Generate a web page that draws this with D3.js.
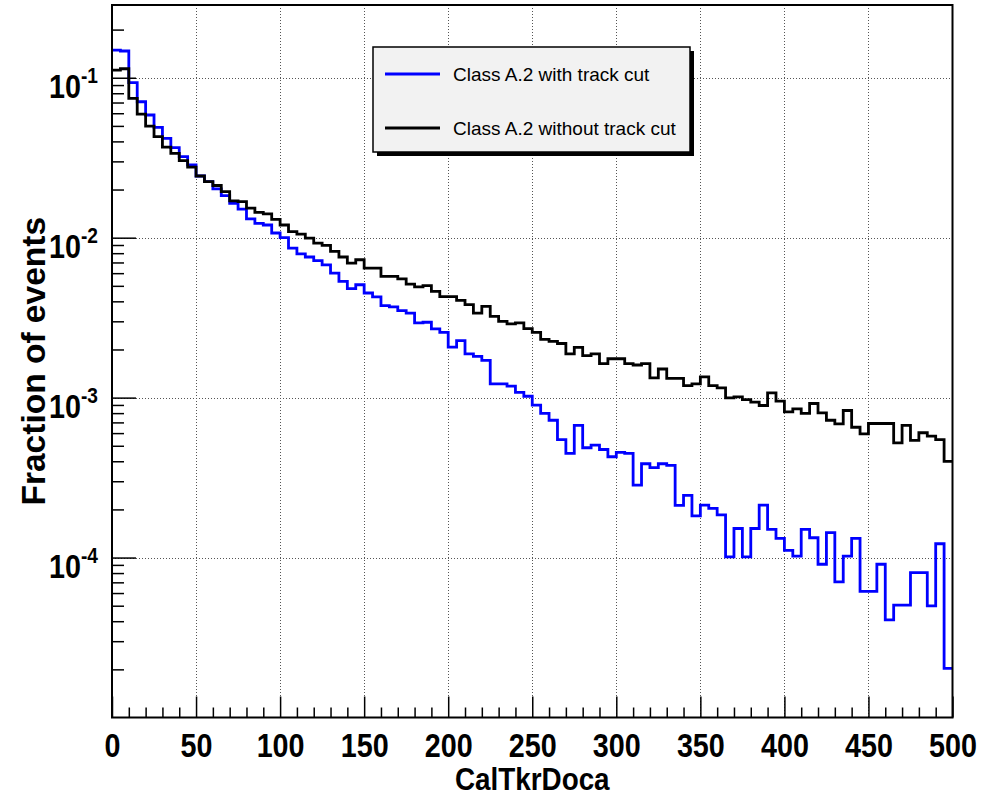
<!DOCTYPE html>
<html>
<head>
<meta charset="utf-8">
<script src="https://cdn.jsdelivr.net/npm/d3@7/dist/d3.min.js"></script>
<style>
  body { margin: 0; background: #fff; }
  text { font-family: "Liberation Sans", Arial, Helvetica, sans-serif; }
</style>
</head>
<body>
<svg id="chart" width="983" height="795"></svg>
<script>
// bins of CalTkrDoca, 5 units wide
var binWidth = 5
var binLow = d3.range(0, 500, binWidth)

// Class A.2 with track cut (blue)
var withCut = [
  0.149, 0.147, 0.0931, 0.0708, 0.0585, 0.0490, 0.0418, 0.0366, 0.0321, 0.0285,
  0.0243, 0.0224, 0.0202, 0.0183, 0.0164, 0.0151, 0.0131, 0.0123, 0.0120, 0.0107,
  0.0100, 0.00861, 0.00793, 0.00757, 0.00718, 0.00677, 0.00601, 0.00533, 0.00480, 0.00508,
  0.00451, 0.00426, 0.00376, 0.00369, 0.00350, 0.00338, 0.00293, 0.00296, 0.00269, 0.00256,
  0.00207, 0.00227, 0.00188, 0.00181, 0.00171, 0.00122, 0.00122, 0.00118, 0.00108, 0.00102,
  0.000897, 0.000796, 0.000722, 0.000547, 0.000448, 0.000670, 0.000486, 0.000505, 0.000474, 0.000427,
  0.000454, 0.000448, 0.000284, 0.000386, 0.000365, 0.000386, 0.000377, 0.000212, 0.000245, 0.000182,
  0.000213, 0.000203, 0.000185, 0.000101, 0.000152, 0.000101, 0.000152, 0.000213, 0.000150, 0.000132,
  0.000111, 0.000102, 0.000150, 0.000133, 0.0000908, 0.000143, 0.0000705, 0.000102, 0.000132, 0.0000614,
  0.0000614, 0.0000908, 0.0000408, 0.0000504, 0.0000504, 0.0000806, 0.0000806, 0.0000499, 0.000122, 0.0000203
]

// Class A.2 without track cut (black)
var withoutCut = [
  0.1117, 0.1138, 0.0744, 0.0593, 0.0499, 0.0428, 0.0368, 0.0337, 0.0303, 0.0276,
  0.0243, 0.0224, 0.0212, 0.0194, 0.0170, 0.0168, 0.0153, 0.0144, 0.0141, 0.0130,
  0.0120, 0.0109, 0.01053, 0.00994, 0.00925, 0.00894, 0.00820, 0.00757, 0.00694, 0.00728,
  0.00646, 0.00646, 0.00573, 0.00573, 0.00552, 0.00513, 0.00492, 0.00501, 0.00462, 0.00428,
  0.00428, 0.00406, 0.00381, 0.00338, 0.00372, 0.00322, 0.00300, 0.00289, 0.00293, 0.00270,
  0.00256, 0.00231, 0.00225, 0.00218, 0.00188, 0.00206, 0.00183, 0.00188, 0.00163, 0.00175,
  0.00175, 0.00163, 0.00160, 0.00163, 0.00133, 0.00151, 0.00132, 0.00132, 0.00119, 0.00122,
  0.00135, 0.00119, 0.00115, 0.000997, 0.00101, 0.000973, 0.000936, 0.000893, 0.00107, 0.000950,
  0.000815, 0.000851, 0.000796, 0.000919, 0.000804, 0.000722, 0.000686, 0.000831, 0.000653, 0.000594,
  0.000689, 0.000689, 0.000689, 0.000522, 0.000670, 0.000540, 0.000603, 0.000574, 0.000547, 0.000399
]

var xMajor = [0, 50, 100, 150, 200, 250, 300, 350, 400, 450, 500]
var yMajor = [1e-4, 1e-3, 1e-2, 1e-1]
var yExp = ['-4', '-3', '-2', '-1']

var series = [
  { name: 'Class A.2 with track cut', values: withCut, color: '#0000ff' },
  { name: 'Class A.2 without track cut', values: withoutCut, color: '#000000' }
]

var frame = { left: 112, right: 952.5, top: 5, bottom: 717.5 }
var svg = d3.select('#chart')

var x = d3.scaleLinear().domain([0, 500]).range([frame.left, frame.right])
var y = d3.scaleLog().domain([1e-5, 0.285]).range([frame.bottom, frame.top])

// minor ticks
var xMinor = d3.range(0, 501, 10).filter(v=> v % 50 != 0)
var yMinor = []
;[1e-5, 1e-4, 1e-3, 1e-2, 1e-1].forEach(d=> {
    for (var m = 2; m <= 9; m++)
        if (d * m < 0.285) yMinor.push(d * m)
})

// dotted grid
var grid = svg.append('g').attr('class', 'grid')
    .attr('stroke', '#555').attr('stroke-width', 1).attr('stroke-dasharray', '1,2')
grid.selectAll('line.gx')
    .data(xMajor.filter(v=> v > 0 && v < 500))
  .enter().append('line')
    .attr('x1', d=> Math.round(x(d)) + 0.5).attr('x2', d=> Math.round(x(d)) + 0.5)
    .attr('y1', frame.top).attr('y2', frame.bottom)
grid.selectAll('line.gy')
    .data(yMajor)
  .enter().append('line')
    .attr('x1', frame.left).attr('x2', frame.right)
    .attr('y1', d=> Math.round(y(d)) + 0.5).attr('y2', d=> Math.round(y(d)) + 0.5)

// histograms as steps
var line = d3.line()
    .x(d=> x(d[0]))
    .y(d=> y(d[1]))
    .curve(d3.curveStepAfter)

series.forEach(s=> {
    var pts = binLow.map((b, i)=> [b, s.values[i]])
        pts.push([500, s.values[s.values.length - 1]])
    svg.append('path')
        .attr('d', line(pts))
        .attr('fill', 'none')
        .attr('stroke', s.color)
        .attr('stroke-width', 2.8)
})

// axes, ticks pointing inward; minor and major in their own groups
function axisGroup(tr)
{
    return svg.append('g').attr('transform', tr)
}

var gxMinor = axisGroup('translate(0,' + frame.bottom + ')')
    .call(d3.axisBottom(x).tickValues(xMinor).tickSize(-10).tickSizeOuter(0).tickFormat(''))
var gxMajor = axisGroup('translate(0,' + frame.bottom + ')')
    .call(d3.axisBottom(x).tickValues(xMajor).tickSize(-21).tickSizeOuter(0).tickFormat(d3.format('d')))
gxMajor.selectAll('text')
    .attr('fill', '#000')
    .attr('font-size', 33).attr('font-weight', 'bold')
    .attr('dy', 0).attr('y', 39.5)
    .attr('transform', 'scale(0.87,1)')

var gyMinor = axisGroup('translate(' + frame.left + ',0)')
    .call(d3.axisLeft(y).tickValues(yMinor).tickSize(-12).tickSizeOuter(0).tickFormat(''))
var gyMajor = axisGroup('translate(' + frame.left + ',0)')
    .call(d3.axisLeft(y).tickValues(yMajor).tickSize(-24).tickSizeOuter(0).tickFormat(''))
gyMajor.selectAll('.tick text')
    .attr('fill', '#000').attr('font-weight', 'bold')
    .attr('x', -14 / 0.87).attr('dy', 0).attr('y', 1)
    .attr('transform', 'scale(0.87,1)')
    .each(function(d, i) {
        var t = d3.select(this)
        t.append('tspan').attr('font-size', 33).attr('dy', 19).text('10')
        t.append('tspan').attr('font-size', 22).attr('dy', -15).text(yExp[i])
    })

;[gxMinor, gxMajor, gyMinor, gyMajor].forEach(g=> {
    g.selectAll('.domain').remove()
    g.selectAll('.tick line').attr('stroke', '#000').attr('stroke-width', 1.5)
})

// frame
svg.append('rect')
    .attr('x', frame.left).attr('y', frame.top)
    .attr('width', frame.right - frame.left).attr('height', frame.bottom - frame.top)
    .attr('fill', 'none').attr('stroke', '#000').attr('stroke-width', 2)

// axis titles
svg.append('text')
    .attr('transform', 'translate(' + x(250) + ',790) scale(0.87,1)')
    .attr('text-anchor', 'middle')
    .attr('font-size', 32).attr('font-weight', 'bold')
    .text('CalTkrDoca')

svg.append('text')
    .attr('transform', 'translate(45,' + (frame.top + frame.bottom) / 2 + ') rotate(-90)')
    .attr('text-anchor', 'middle')
    .attr('font-size', 33.5).attr('font-weight', 'bold')
    .text('Fraction of events')

// legend
var lg = svg.append('g').attr('transform', 'translate(373,47)')
lg.append('rect').attr('x', 4).attr('y', 4).attr('width', 317).attr('height', 105).attr('fill', '#000')
lg.append('rect').attr('width', 317).attr('height', 105)
    .attr('fill', '#f2f2f2').attr('stroke', '#000').attr('stroke-width', 1.5)
series.forEach((s, i)=> {
    var yy = 27 + i * 54
    lg.append('line').attr('x1', 12).attr('x2', 67).attr('y1', yy).attr('y2', yy)
        .attr('stroke', s.color).attr('stroke-width', 2.8)
    lg.append('text').attr('x', 80).attr('y', yy + 7)
        .attr('font-size', 19).attr('fill', '#000')
        .text(s.name)
})
</script>
</body>
</html>
